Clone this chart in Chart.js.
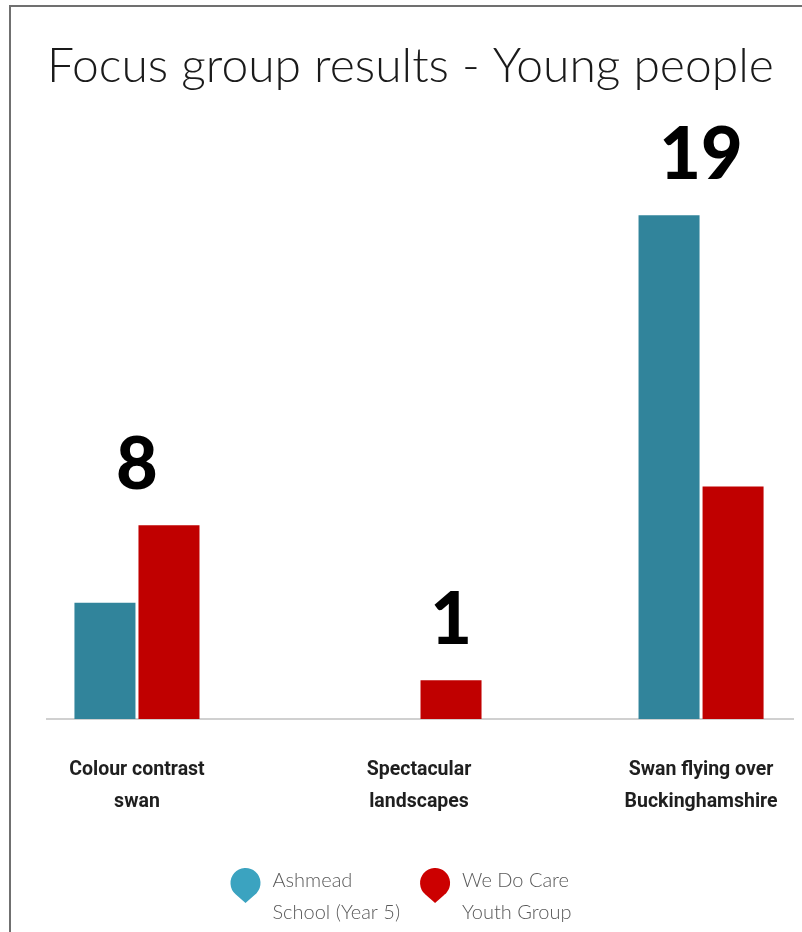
<!DOCTYPE html>
<html lang="en">
<head>
  <meta charset="UTF-8" />
  <title>Focus group results - Young people</title>
  <script src="https://cdn.jsdelivr.net/npm/chart.js"></script>
  <style>
    html, body {
      margin: 0;
      padding: 0;
      background: #fff;
      overflow: hidden;
    }
    .frame {
      position: absolute;
      left: 9px;
      top: 5px;
      width: 900px;
      height: 1000px;
      border-left: 2px solid #707070;
      border-top: 2px solid #707070;
    }
    .wrap {
      position: absolute;
      left: 0;
      top: 0;
      width: 802px;
      height: 932px;
    }
  </style>
</head>
<body>
  <div class="frame"></div>
  <div class="wrap"><canvas id="chart"></canvas></div>

  <script>
    const categories = [
      ['Colour contrast', 'swan'],
      ['Spectacular', 'landscapes'],
      ['Swan flying over', 'Buckinghamshire']
    ];
    const seriesNames = [
      ['Ashmead', 'School (Year 5)'],
      ['We Do Care', 'Youth Group']
    ];
    const ashmead = [3, 0, 13];
    const weDoCare = [5, 1, 6];

    const barColors = ['#31849b', '#c00000'];
    const pinColors = ['#3ba3c0', '#cc0000'];

    // group totals written above each cluster, centred over its non-empty bars
    const totalLabels = {
      id: 'totalLabels',
      afterDatasetsDraw(chart) {
        const ctx = chart.ctx;
        ctx.save();
        ctx.font = '900 72px Lato';
        ctx.fillStyle = '#000';
        ctx.textAlign = 'center';
        ctx.textBaseline = 'alphabetic';
        categories.forEach((c, i) => {
          let total = 0, xs = [], top = Infinity;
          chart.data.datasets.forEach((ds, d) => {
            const v = ds.data[i].y;
            const el = chart.getDatasetMeta(d).data[i];
            total += v;
            if (v > 0) {
              xs.push(el.x);
              top = Math.min(top, el.y);
            }
          });
          const x = xs.reduce((a, b) => a + b, 0) / xs.length;
          ctx.fillText(String(total), x, top - 36);
        });
        ctx.restore();
      }
    };

    // legend with map-pin markers and two-line names
    const pinLegend = {
      id: 'pinLegend',
      afterDraw(chart) {
        const ctx = chart.ctx;
        ctx.save();
        ctx.font = '300 20px Lato';
        const r = 15, tip = 20, gap = 12, spacing = 20;
        const items = chart.data.datasets.map((ds, i) => ({
          lines: seriesNames[i],
          w: Math.max(...seriesNames[i].map(l => ctx.measureText(l).width)),
          color: pinColors[i]
        }));
        const total = items.reduce((s, it) => s + 2 * r + gap + it.w, 0) + spacing * (items.length - 1);
        let x = (chart.width - total) / 2;
        const cy = chart.height - 49;
        const a = Math.acos(r / tip);
        items.forEach(it => {
          const cx = x + r;
          ctx.beginPath();
          ctx.moveTo(cx, cy + tip);
          ctx.arc(cx, cy, r, Math.PI / 2 + a, Math.PI / 2 - a);
          ctx.closePath();
          ctx.fillStyle = it.color;
          ctx.fill();

          ctx.fillStyle = '#595959';
          ctx.textAlign = 'left';
          ctx.textBaseline = 'middle';
          it.lines.forEach((line, k) => {
            ctx.fillText(line, x + 2 * r + gap, cy - 2 + k * 32);
          });
          x += 2 * r + gap + it.w + spacing;
        });
        ctx.restore();
      }
    };

    new Chart(document.getElementById('chart'), {
      type: 'bar',
      data: {
        datasets: [
          {
            label: seriesNames[0].join(' '),
            data: ashmead.map((v, i) => ({ x: i, y: v })),
            backgroundColor: barColors[0]
          },
          {
            label: seriesNames[1].join(' '),
            data: weDoCare.map((v, i) => ({ x: i, y: v })),
            backgroundColor: barColors[1]
          }
        ]
      },
      options: {
        responsive: true,
        maintainAspectRatio: false,
        animation: false,
        layout: {
          padding: { left: 47, right: 9, top: 0, bottom: 79 }
        },
        datasets: {
          bar: { categoryPercentage: 0.454, barPercentage: 0.953, borderWidth: 0 }
        },
        plugins: {
          legend: { display: false },
          tooltip: { enabled: false },
          title: {
            display: true,
            align: 'start',
            text: 'Focus group results - Young people',
            color: '#1a1a1a',
            font: { family: 'Lato', size: 48, weight: '300', lineHeight: 1.2 },
            padding: { top: 38, bottom: 81 }
          }
        },
        scales: {
          x: {
            type: 'linear',
            offset: false,
            min: -0.319,
            max: 2.326,
            grid: { display: false, drawTicks: false },
            border: { display: true, color: '#d0d0d0', width: 2 },
            afterBuildTicks: scale => {
              scale.ticks = categories.map((c, i) => ({ value: i }));
            },
            // labels sit well inside the axis, so no side padding is needed
            afterFit: scale => {
              scale.paddingLeft = 0;
              scale.paddingRight = 0;
            },
            ticks: {
              autoSkip: false,
              maxRotation: 0,
              padding: 35,
              color: '#1f1f1f',
              font: { family: 'Roboto', size: 19.5, weight: 'bold', lineHeight: 1.64 },
              callback: value => categories[value]
            }
          },
          y: {
            display: false,
            min: 0,
            max: 14
          }
        }
      },
      plugins: [totalLabels, pinLegend]
    });
  </script>
</body>
</html>
